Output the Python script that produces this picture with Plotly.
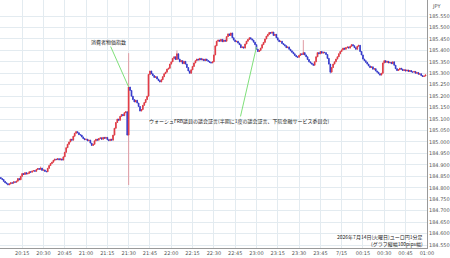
import plotly.graph_objects as go

# minutes from 20:00 (1-minute candles, 2026-07-14 20:00 -> 01:00)
first_open = 184.845
closes = [
    184.840, 184.836, 184.828, 184.822, 184.818, 184.813, 184.817, 184.822, 184.820, 184.826,
    184.824, 184.829, 184.840, 184.835, 184.850, 184.862, 184.858, 184.866, 184.860, 184.863,
    184.870, 184.868, 184.873, 184.875, 184.872, 184.880, 184.884, 184.881, 184.886, 184.876,
    184.878, 184.872, 184.870, 184.885, 184.897, 184.906, 184.912, 184.920, 184.925, 184.923,
    184.927, 184.922, 184.926, 184.921, 184.935, 184.955, 184.975, 184.990, 185.000, 185.012,
    185.008, 185.025, 185.038, 185.045, 185.040, 185.032, 185.030, 185.022, 185.015, 185.010,
    185.012, 185.005, 185.008, 184.995, 184.985, 184.990, 185.005, 185.012, 185.008, 185.015,
    185.018, 185.012, 185.020, 185.016, 185.020, 185.010, 185.006, 185.012, 185.008, 185.030,
    185.060, 185.085, 185.100, 185.095, 185.112, 185.120, 185.115, 185.128, 185.132, 185.030,
    185.240, 185.225, 185.200, 185.185, 185.175, 185.182, 185.170, 185.155, 185.135, 185.142,
    185.160, 185.172, 185.185, 185.200, 185.295, 185.310, 185.298, 185.290, 185.282, 185.285,
    185.275, 185.268, 185.262, 185.272, 185.285, 185.298, 185.305, 185.318, 185.322, 185.340,
    185.350, 185.365, 185.372, 185.360, 185.385, 185.362, 185.350, 185.355, 185.342, 185.352,
    185.340, 185.325, 185.310, 185.300, 185.315, 185.330, 185.345, 185.355, 185.362, 185.358,
    185.365, 185.358, 185.362, 185.355, 185.362, 185.356, 185.352, 185.348, 185.345, 185.350,
    185.380, 185.420, 185.440, 185.445, 185.440, 185.448, 185.438, 185.445, 185.440, 185.460,
    185.472, 185.465, 185.476, 185.455, 185.445, 185.438, 185.440, 185.432, 185.425, 185.412,
    185.415, 185.410, 185.428, 185.440, 185.448, 185.455, 185.450, 185.445, 185.436, 185.425,
    185.405, 185.395, 185.400, 185.410, 185.425, 185.435, 185.450, 185.462, 185.470, 185.478,
    185.475, 185.480, 185.465, 185.470, 185.455, 185.445, 185.438, 185.440, 185.430, 185.425,
    185.420, 185.412, 185.415, 185.405, 185.398, 185.392, 185.385, 185.378, 185.372, 185.370,
    185.378, 185.385, 185.382, 185.390, 185.380, 185.372, 185.360, 185.350, 185.345, 185.340,
    185.335, 185.350, 185.372, 185.390, 185.385, 185.395, 185.388, 185.392, 185.390, 185.382,
    185.365, 185.340, 185.305, 185.325, 185.340, 185.350, 185.362, 185.372, 185.385, 185.395,
    185.402, 185.410, 185.405, 185.412, 185.415, 185.410, 185.418, 185.425, 185.420, 185.412,
    185.405, 185.418, 185.422, 185.395, 185.380, 185.362, 185.355, 185.348, 185.340, 185.332,
    185.325, 185.328, 185.318, 185.320, 185.310, 185.305, 185.298, 185.292, 185.300, 185.345,
    185.355, 185.348, 185.352, 185.345, 185.348, 185.342, 185.350, 185.335, 185.320, 185.312,
    185.316, 185.322, 185.318, 185.312, 185.315, 185.310, 185.314, 185.308, 185.312, 185.306,
    185.305, 185.308, 185.300, 185.303, 185.296, 185.298, 185.290, 185.286, 185.288, 185.293,
]
# notable wick extremes: minute index -> (high, low)
wick_extremes = {
    28: (184.893, None),
    90: (185.388, 184.812),
    124: (185.400, None),
    213: (185.445, None),
    232: (None, 185.298),
}

tick_minutes = list(range(0, 301, 15))
tick_labels = ["20:00", "20:15", "20:30", "20:45", "21:00", "21:15", "21:30", "21:45",
               "22:00", "22:15", "22:30", "22:45", "23:00", "23:15", "23:30", "23:45",
               "7/15", "00:15", "00:30", "00:45", "01:00"]
y_ticks = [round(184.55 + 0.05 * i, 3) for i in range(21)]

minutes = list(range(len(closes)))
opens = [first_open] + closes[:-1]
highs, lows = [], []
for i, (o, c) in enumerate(zip(opens, closes)):
    h, l = max(o, c), min(o, c)
    if i in wick_extremes:
        eh, el = wick_extremes[i]
        if eh is not None:
            h = max(h, eh)
        if el is not None:
            l = min(l, el)
    highs.append(h)
    lows.append(l)
body_hi = [max(o, c) for o, c in zip(opens, closes)]
body_lo = [min(o, c) for o, c in zip(opens, closes)]

fig = go.Figure()
# wicks (pale)
fig.add_trace(go.Candlestick(
    x=minutes, open=opens, high=highs, low=lows, close=closes,
    increasing=dict(line=dict(color="#e09aa2", width=1), fillcolor="#e09aa2"),
    decreasing=dict(line=dict(color="#a0a5e6", width=1), fillcolor="#a0a5e6"),
    whiskerwidth=0, showlegend=False, hoverinfo="skip"))
# bodies
fig.add_trace(go.Candlestick(
    x=minutes, open=opens, high=body_hi, low=body_lo, close=closes,
    increasing=dict(line=dict(color="#e2323c", width=0.6), fillcolor="#e2323c"),
    decreasing=dict(line=dict(color="#2f33c9", width=0.6), fillcolor="#2f33c9"),
    whiskerwidth=0, showlegend=False))

jp = "Noto Sans CJK JP"
fig.add_annotation(x=90, y=185.240, text="消費者物価指数", showarrow=True,
                   ax=-20, ay=-45, arrowhead=0, arrowwidth=1, arrowcolor="#7fe07a",
                   font=dict(family=jp, size=5, color="#222"), borderpad=0)
fig.add_annotation(x=180, y=185.415,
                   text="ウォーシュFRB議員の議会証言(半期に1度の議会証言、下院金融サービス委員会)",
                   showarrow=True, ax=-17, ay=74, arrowhead=0, arrowwidth=1,
                   arrowcolor="#7fe07a", font=dict(family=jp, size=5, color="#222"), borderpad=0)
fig.add_annotation(xref="paper", yref="paper", x=0.996, y=0.032, xanchor="right", yanchor="middle",
                   text="2026年7月14日(火曜日)ユーロ円1分足<br>(グラフ縦幅100pips幅)",
                   showarrow=False, align="right",
                   font=dict(family=jp, size=5, color="#222"))
fig.add_annotation(xref="paper", yref="paper", x=1.023, y=0.976, xanchor="center", yanchor="middle",
                   text="JPY", showarrow=False, font=dict(family="DejaVu Sans", size=5, color="#555"))

fig.update_layout(
    width=450, height=258,
    margin=dict(l=0, r=20, t=0, b=10),
    paper_bgcolor="white", plot_bgcolor="white",
    xaxis=dict(range=[-0.6, 300.1], tickvals=tick_minutes, ticktext=tick_labels,
               showgrid=True, gridcolor="#e3ebf0", gridwidth=1,
               showline=True, linecolor="#9a9a9a", linewidth=1,
               tickfont=dict(family="DejaVu Sans", size=5, color="#555"),
               rangeslider=dict(visible=False), zeroline=False, ticks=""),
    yaxis=dict(side="right", range=[184.537, 185.620], tickvals=y_ticks,
               tickformat=".3f", showgrid=True, gridcolor="#e3ebf0", gridwidth=1,
               showline=True, linecolor="#9a9a9a", linewidth=1,
               tickfont=dict(family="DejaVu Sans", size=5, color="#555"),
               zeroline=False, ticks=""),
)

fig.write_html("out.html")
